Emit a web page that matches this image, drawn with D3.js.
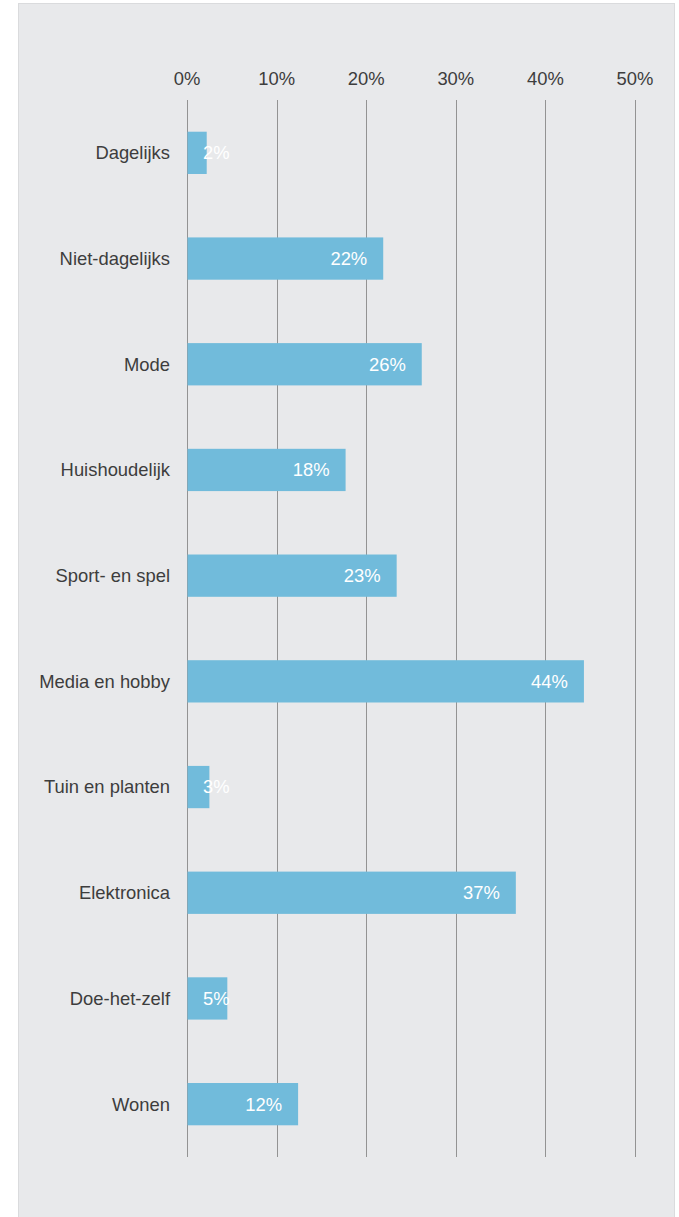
<!DOCTYPE html>
<html lang="nl">
<head>
    <meta charset="UTF-8">
    <title>Winkelcategorieën</title>
    <style>
        body {
            margin: 0;
            background-color: #fff;
        }
        svg text {
            font-family: "Liberation Sans", Arial, sans-serif;
            font-size: 18.4px;
        }
    </style>
</head>
<body>

<svg id="chart" width="679" height="1217"></svg>

<script src="https://cdn.jsdelivr.net/npm/d3@7"></script>
<script>
    // Data
    const categories = ["Dagelijks", "Niet-dagelijks", "Mode", "Huishoudelijk", "Sport- en spel",
        "Media en hobby", "Tuin en planten", "Elektronica", "Doe-het-zelf", "Wonen"];
    const shares = [2.2, 21.9, 26.2, 17.7, 23.4, 44.3, 2.5, 36.7, 4.5, 12.4];
    const tickValues = [0, 10, 20, 30, 40, 50];

    const data = categories.map((c, i) => ({ name: c, value: shares[i] }));

    const svg = d3.select("#chart");

    // Panel background
    svg.append("rect")
        .attr("x", 18.5)
        .attr("y", 3.5)
        .attr("width", 656)
        .attr("height", 1230)
        .attr("fill", "#e8e9eb")
        .attr("stroke", "#dadbdd");

    const x = d3.scaleLinear().domain([0, 50]).range([187, 635]);
    const y = d3.scaleBand()
        .domain(categories)
        .range([100, 1157])
        .paddingInner(0.6)
        .paddingOuter(0.3);

    // Vertical gridlines
    svg.append("g").selectAll("line")
        .data(tickValues)
        .join("line")
        .attr("x1", d => Math.round(x(d)) + 0.5)
        .attr("x2", d => Math.round(x(d)) + 0.5)
        .attr("y1", y.range()[0])
        .attr("y2", y.range()[1])
        .attr("stroke", "#939393")
        .attr("stroke-width", 1);

    // Tick labels on top
    svg.append("g").selectAll("text")
        .data(tickValues)
        .join("text")
        .attr("x", d => x(d))
        .attr("y", 79)
        .attr("dy", "0.35em")
        .attr("text-anchor", "middle")
        .attr("fill", "#3d3d3d")
        .text(d => d + "%");

    // Category labels
    svg.append("g").selectAll("text")
        .data(data)
        .join("text")
        .attr("x", x(0) - 17)
        .attr("y", d => y(d.name) + y.bandwidth() / 2)
        .attr("dy", "0.35em")
        .attr("text-anchor", "end")
        .attr("fill", "#3d3d3d")
        .text(d => d.name);

    // Bars
    svg.append("g").selectAll("rect")
        .data(data)
        .join("rect")
        .attr("x", x(0) + 0.5)
        .attr("y", d => y(d.name))
        .attr("width", d => x(d.value) - x(0) - 0.5)
        .attr("height", y.bandwidth())
        .attr("fill", "#71bbdb");

    // Value labels, inside the bar end; short bars push the label to the right
    const labels = svg.append("g").selectAll("text")
        .data(data)
        .join("text")
        .attr("y", d => y(d.name) + y.bandwidth() / 2)
        .attr("dy", "0.35em")
        .attr("text-anchor", "end")
        .attr("fill", "#ffffff")
        .text(d => Math.round(d.value) + "%");

    labels.attr("x", function(d) {
        const w = this.getComputedTextLength();
        return Math.max(x(d.value) - 16, x(0) + 16 + w);
    });
</script>

</body>
</html>
